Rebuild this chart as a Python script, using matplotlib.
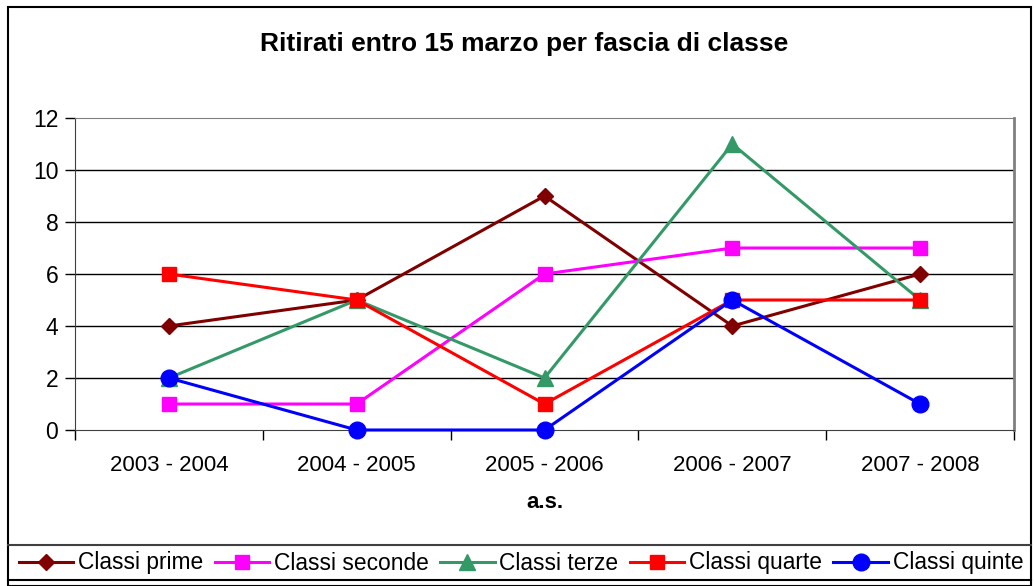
import numpy as np
import matplotlib
matplotlib.use("Agg")
import matplotlib.pyplot as plt
from matplotlib.patches import Rectangle
from matplotlib.lines import Line2D

plt.rcParams['font.family'] = ['Liberation Sans', 'DejaVu Sans']

anni = ["2003 - 2004", "2004 - 2005", "2005 - 2006", "2006 - 2007", "2007 - 2008"]
prime = [4, 5, 9, 4, 6]
seconde = [1, 1, 6, 7, 7]
terze = [2, 5, 2, 11, 5]
quarte = [6, 5, 1, 5, 5]
quinte = [2, 0, 0, 5, 1]

W, H = 1034, 586
fig = plt.figure(figsize=(W / 100, H / 100), dpi=100)

def fx(px):
    return px / W

def fy(py):
    return 1 - py / H

ax = fig.add_axes([fx(75), fy(430), fx(1014) - fx(75), fy(118) - fy(430)])

x = np.arange(len(anni))
fs = 16
serie = [
    ("Classi prime", prime, "#800000", "D", 7.8),
    ("Classi seconde", seconde, "#FF00FF", "s", 10.5),
    ("Classi terze", terze, "#339966", "^", 11),
    ("Classi quarte", quarte, "#FF0000", "s", 10.5),
    ("Classi quinte", quinte, "#0000FF", "o", 12),
]
handles = []
for nome, val, col, mk, ms in serie:
    h, = ax.plot(x, val, color=col, lw=2.2, marker=mk, markersize=ms,
                 markeredgecolor=col, markerfacecolor=col, label=nome,
                 clip_on=False, zorder=3)
    handles.append(h)

ax.set_xlim(-0.5, len(anni) - 0.5)
ax.set_ylim(0, 12)
ax.set_yticks(range(0, 13, 2))
ax.set_xticks(x)
ax.set_xticklabels(anni, fontsize=fs)
ax.set_xticks(np.arange(-0.5, len(anni), 1), minor=True)
ax.tick_params(axis='x', which='major', length=0, pad=18)
ax.tick_params(axis='x', which='minor', length=7, width=1, direction='out')
ax.tick_params(axis='y', length=7, width=1, direction='out', labelsize=16.5, pad=5)
for yv in range(2, 12, 2):
    ax.axhline(yv, color='black', lw=1, zorder=1)
ax.spines['top'].set_color('#808080')
ax.spines['right'].set_color('#808080')
ax.spines['right'].set_linewidth(2)
ax.spines['left'].set_color('#404040')
ax.spines['bottom'].set_color('#404040')

fig.text(fx(524), fy(44), "Ritirati entro 15 marzo per fascia di classe",
         ha='center', va='center', fontsize=19, fontweight='bold')
fig.text(fx(545), fy(503), "a.s.", ha='center', va='center',
         fontsize=fs, fontweight='bold')

# cornice esterna e riquadro legenda
fig.patches.append(Rectangle((fx(8), fy(586)), fx(1031) - fx(8), fy(7) - fy(586),
                             transform=fig.transFigure, fill=False,
                             edgecolor='black', lw=1.5))
fig.add_artist(Line2D([fx(8), fx(1031)], [fy(545), fy(545)],
                      transform=fig.transFigure, color='#404040', lw=1.5))
fig.add_artist(Line2D([fx(8), fx(1031)], [fy(580), fy(580)],
                      transform=fig.transFigure, color='black', lw=1.5))

fig.legend(handles=handles, loc='center', bbox_to_anchor=(fx(521), fy(563)),
           ncol=5, frameon=False, fontsize=16.4, handlelength=2.4,
           handletextpad=0.2, columnspacing=0.5, borderpad=0)

fig.savefig("out.png", dpi=100)
